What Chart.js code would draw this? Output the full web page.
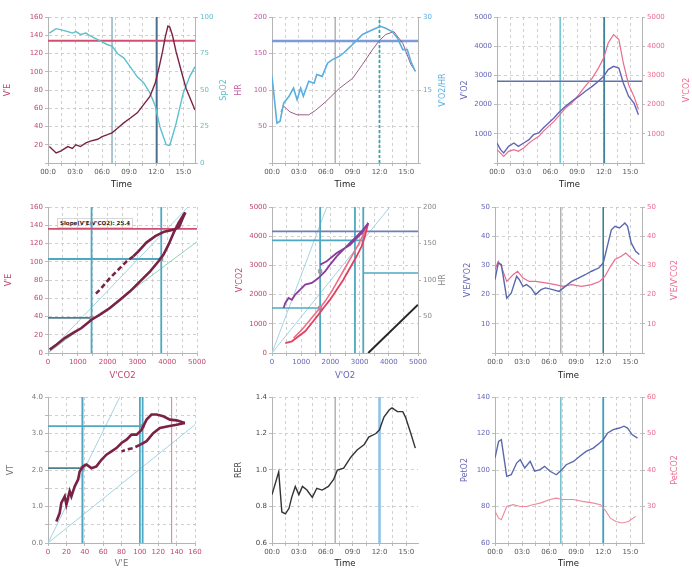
<!DOCTYPE html>
<html>
<head>
<meta charset="utf-8">
<script src="https://cdn.jsdelivr.net/npm/chart.js@4.4.1/dist/chart.umd.min.js"></script>
<style>
  html, body { margin: 0; padding: 0; background: #fff; }
  #wrap { position: relative; width: 692px; height: 569px; overflow: hidden; }
  .panel { position: absolute; }
  .note {
    position: absolute; left: 57px; top: 218px;
    font: bold 5.5px 'DejaVu Sans', sans-serif; color: #222;
    background: #fff; border: 1px solid #d8d8d8; padding: 1px 2px; white-space: nowrap;
  }
</style>
</head>
<body>
<div id="wrap"><div class="note">Slope(V'E/V'CO2): 25.4</div></div>
<script>
// ── data ──────────────────────────────────────────────────────────────────────
const timeTickLabels = ['00:0', '03:0', '06:0', '09:0', '12:0', '15:0'];
const thr1Time = 7.1;    // first threshold, min
const thr2Time = 12.05;  // second threshold, min

// panel 1: V'E and SpO2 vs time
const veTime   = [0.15, 0.9, 1.4, 2.2, 2.7, 3.1, 3.6, 4.2, 4.7, 5.5, 6.0, 6.6, 7.1, 7.7, 8.4, 9.1, 9.9, 10.6, 11.3, 11.9, 12.3, 12.7, 13.0, 13.3, 13.5, 13.8, 14.2, 14.8, 15.3, 16.3];
const veVals   = [18, 11, 13, 18, 16, 20, 18, 22, 24, 26, 29, 31, 33, 38, 44, 49, 55, 64, 73, 88, 104, 122, 138, 150, 149, 140, 122, 100, 82, 58];
const spo2Time = [0.15, 0.9, 1.6, 2.2, 2.7, 3.1, 3.6, 4.2, 4.7, 5.5, 6.0, 6.6, 7.1, 7.7, 8.4, 9.1, 9.9, 10.6, 11.3, 11.9, 12.4, 13.1, 13.5, 14.2, 15.0, 15.7, 16.3];
const spo2Vals = [89, 92, 91, 90, 89, 90, 88, 89, 87, 84.5, 83, 81, 80, 75, 72, 66, 59, 55, 48, 39, 25, 12.5, 12, 27, 48, 59, 66];
const veLimit  = 134;

// panel 2: HR and V'O2/HR vs time
const hrTime  = [1.0, 1.3, 2.0, 2.8, 4.1, 4.85, 6.0, 7.5, 9.0, 10.1, 11.2, 12.0, 12.7, 13.6, 14.6, 15.5, 16.0];
const hrVals  = [70, 78, 70, 66, 66, 72, 84, 102, 116, 135, 155, 168, 176, 180, 164, 135, 126];
const o2pTime = [0, 0.55, 0.9, 1.3, 1.9, 2.4, 2.8, 3.2, 3.5, 4.1, 4.7, 5.0, 5.6, 6.2, 6.7, 7.5, 8.0, 8.8, 9.5, 10.1, 10.8, 11.6, 12.1, 12.7, 13.4, 14.0, 14.6, 15.1, 15.5, 16.0];
const o2pVals = [17.8, 8.2, 8.6, 12.3, 13.7, 15.4, 13, 15.4, 13.7, 16.8, 16.4, 18.2, 17.8, 20.5, 21.2, 21.9, 22.6, 24, 25.3, 26.4, 27, 27.7, 28.1, 27.7, 27, 25.7, 23.3, 23.3, 20.9, 18.8];
const hrLimit = 167;

// panel 3: V'O2 and V'CO2 vs time
const gasTime  = [0, 0.4, 0.75, 1.3, 1.9, 2.4, 3.0, 3.6, 4.1, 4.7, 5.2, 5.8, 6.4, 6.9, 7.7, 8.4, 9.2, 9.9, 10.7, 11.4, 12.0, 12.5, 13.1, 13.7, 14.2, 14.8, 15.4, 15.9];
const vo2Vals  = [685, 457, 342, 570, 685, 570, 685, 800, 970, 1030, 1200, 1370, 1540, 1710, 1940, 2110, 2280, 2450, 2625, 2800, 2970, 3200, 3310, 3250, 2740, 2280, 2050, 1655];
const vco2Vals = [457, 340, 228, 400, 457, 400, 514, 685, 800, 913, 1085, 1255, 1427, 1600, 1884, 2055, 2340, 2625, 2910, 3250, 3600, 4110, 4395, 4225, 3425, 2680, 2280, 1830];
const vo2Limit = 2800;

// panel 4: V'E vs V'CO2
const veCo2ExX   = [56, 281, 562, 843, 1124, 1461, 1742, 2079, 2416, 2753, 3090, 3427, 3708, 3876, 4045, 4213, 4382, 4551, 4607];
const veCo2ExY   = [3.7, 9.1, 16.4, 22, 27.4, 36.5, 42, 49.3, 58.4, 67.6, 78.5, 89.5, 100.5, 107.8, 118.7, 131.5, 142.5, 151.6, 154];
const veCo2RecX  = [4607, 4500, 4400, 4200, 3900, 3600, 3300, 3050, 2865];
const veCo2RecY  = [154, 146, 138, 135, 133, 128, 121, 112, 106];
const veCo2TailX = [2865, 2640, 2360, 2079, 1742, 1573];
const veCo2TailY = [106, 100.5, 91.3, 82.2, 69.4, 64];
const veCo2ThrX  = [1461, 3800];
const veCo2ThrY  = [38.4, 103];

// panel 5: V'CO2 and HR vs V'O2
const vslopeExX  = [455, 682, 909, 1136, 1364, 1591, 1761, 1989, 2216, 2443, 2670, 2898, 3068, 3182, 3295];
const vslopeExY  = [342, 400, 571, 742, 1027, 1313, 1541, 1826, 2169, 2511, 2911, 3311, 3653, 3995, 4452];
const vslopeRecX = [3295, 3239, 2955, 2727, 2500, 2273, 2045, 1818, 1591, 1307, 1023, 739];
const vslopeRecY = [4452, 4281, 3710, 3311, 2911, 2511, 2112, 1769, 1484, 1142, 799, 514];
const hrVo2X     = [398, 455, 568, 682, 795, 966, 1136, 1364, 1591, 1818, 1989, 2216, 2443, 2670, 2898, 3125, 3295, 3068, 2670, 2216, 1875, 1648];
const hrVo2Y     = [61.6, 68.5, 75.3, 73, 80, 86.8, 93.6, 95.9, 102.7, 111.9, 121, 132.4, 141.6, 150.7, 159.8, 169, 178, 164, 148, 137, 125.6, 121];
const vslopeThrX = [1648, 2841, 3125];
const vslopeThrY = [1541, 2740, 3858, 4167];
const vslopeMarkX = [1648, 1648, 3125];
const vslopeMarkY = [1541, 2797, 4110];
const refLineX   = [3295, 5000];
const refLineY   = [0, 1655];

// panel 6: V'E/V'O2 and V'E/V'CO2 vs time
const eqO2Time  = [0, 0.36, 0.7, 1.3, 1.8, 2.4, 2.7, 3.1, 3.5, 4.0, 4.5, 5.1, 5.6, 6.4, 7.1, 7.8, 8.5, 9.3, 10.0, 10.7, 11.5, 12.0, 12.5, 12.9, 13.3, 13.8, 14.4, 14.7, 15.1, 15.6, 16.0];
const eqO2Vals  = [25.1, 30.8, 30.3, 18.8, 20.5, 26.3, 25.1, 22.8, 23.4, 22.3, 20, 21.7, 22.3, 21.7, 21.1, 22.8, 24.5, 25.7, 26.8, 28, 29.1, 30.8, 37.1, 42.2, 43.4, 42.8, 44.5, 43.4, 37.7, 34.8, 33.7];
const eqCo2Time = [0, 0.36, 0.7, 1.3, 2.0, 2.5, 3.1, 3.8, 4.5, 5.6, 6.7, 7.5, 8.5, 9.6, 10.7, 11.6, 12.2, 12.7, 13.3, 14.0, 14.5, 15.1, 16.0];
const eqCo2Vals = [28.5, 31.4, 29.7, 24.5, 26.8, 28, 25.7, 24.5, 24.5, 24, 23.4, 22.8, 23.4, 22.8, 23.4, 24.5, 26.3, 29.1, 32, 33.1, 34.2, 32.5, 30.3];

// panel 7: VT vs V'E
const vtExX   = [9.1, 12.7, 14.5, 18.2, 20, 23.6, 25.5, 29, 32.7, 34.5, 38.2, 41.8, 47.3, 52.7, 58.2, 63.6, 69.1, 74.5, 80, 85.5, 90.9, 96.4, 101.8, 107.3, 112.7, 118.2, 125.5, 132.7, 140, 149];
const vtExY   = [0.59, 0.82, 1.1, 1.28, 1.05, 1.42, 1.28, 1.55, 1.74, 1.96, 2.1, 2.15, 2.05, 2.1, 2.28, 2.42, 2.51, 2.6, 2.74, 2.83, 2.97, 2.97, 3.1, 3.38, 3.52, 3.52, 3.47, 3.38, 3.36, 3.29];
const vtRecX  = [149, 140, 130.9, 121.8, 114.5, 107.3, 100];
const vtRecY  = [3.29, 3.24, 3.2, 3.15, 3.01, 2.79, 2.69];
const vtTailX = [100, 92.7, 85.5, 80];
const vtTailY = [2.69, 2.6, 2.56, 2.51];
const vtThrX  = [37.5, 100, 103, 134.5];
const vtThrY  = [2.05, 3.2];

// panel 8: RER vs time
const rerTime = [0, 0.75, 1.1, 1.5, 1.9, 2.2, 2.6, 3.0, 3.4, 3.9, 4.5, 5.0, 5.6, 6.3, 6.9, 7.3, 8.0, 8.8, 9.5, 10.3, 10.8, 11.6, 12.0, 12.5, 13.1, 13.4, 14.0, 14.6, 14.9, 15.5, 16.0];
const rerVals = [0.865, 0.99, 0.77, 0.76, 0.79, 0.85, 0.91, 0.865, 0.91, 0.89, 0.85, 0.9, 0.89, 0.91, 0.95, 1.0, 1.01, 1.07, 1.11, 1.14, 1.18, 1.2, 1.22, 1.29, 1.33, 1.34, 1.32, 1.32, 1.29, 1.2, 1.12];

// panel 9: PetO2 and PetCO2 vs time
const peto2Time  = [0, 0.4, 0.7, 1.3, 1.8, 2.4, 2.8, 3.3, 3.9, 4.4, 5.0, 5.5, 6.1, 6.8, 7.4, 7.9, 8.7, 9.4, 10.1, 10.9, 11.6, 12.0, 12.5, 13.1, 13.8, 14.3, 14.7, 15.2, 15.8];
const peto2Vals  = [106.6, 115.7, 116.6, 96.5, 97.4, 103.8, 105.7, 101.1, 104.7, 99.3, 100.2, 102, 99.3, 97.4, 100.2, 102.9, 104.7, 107.5, 110.2, 112, 114.8, 116.6, 120.3, 122.1, 123, 124, 123, 119.4, 117.5];
const petco2Time = [0, 0.4, 0.7, 1.3, 2.0, 2.8, 3.5, 4.2, 5.1, 6.1, 6.8, 7.5, 8.7, 9.7, 10.8, 11.7, 12.3, 12.8, 13.4, 14.1, 14.8, 15.6];
const petco2Vals = [28.7, 26.8, 26.4, 30, 30.5, 30, 30, 30.5, 31, 31.9, 32.3, 31.9, 31.9, 31.4, 31, 30.5, 28.7, 26.8, 25.9, 25.5, 25.9, 27.3];

// ── helpers ───────────────────────────────────────────────────────────────────
const FONT = 'DejaVu Sans';
const wrap = document.getElementById('wrap');

const pts   = (xs, ys) => xs.map((x, i) => ({ x, y: ys[i] }));
const hLine = (y, x0, x1) => [{ x: x0, y }, { x: x1, y }];
const vLine = (x, y0, y1) => [{ x, y: y0 }, { x, y: y1 }];

function line(data, color, width, extra) {
  return Object.assign({ data, borderColor: color, backgroundColor: color, borderWidth: width,
    pointRadius: 0, fill: false, yAxisID: 'y' }, extra);
}

function marks(data, axis) {
  return { data, showLine: false, pointRadius: 2.5, pointStyle: 'rect', yAxisID: axis || 'y',
    backgroundColor: '#9a9a9a', borderColor: '#888', borderWidth: 0.5 };
}

function tickLabel(v, a) {
  const k = (v - a.min) / a.labelStep;
  const i = Math.round(k);
  return Math.abs(k - i) < 1e-6 ? (a.labels[i] ?? '') : '';
}

// right-hand axis title, rotated like the left one (reads bottom to top)
const sideTitle = {
  id: 'sideTitle',
  afterDraw(chart, args, opts) {
    const s = chart.scales.y2;
    if (!s || !opts.text) return;
    const { ctx, chartArea } = chart;
    ctx.save();
    ctx.translate(s.right - opts.offset, (chartArea.top + chartArea.bottom) / 2);
    ctx.rotate(-Math.PI / 2);
    ctx.textAlign = 'center';
    ctx.textBaseline = 'middle';
    ctx.font = `8px '${FONT}'`;
    ctx.fillStyle = opts.color;
    ctx.fillText(opts.text, 0, 0);
    ctx.restore();
  },
};

function makeAxis(a) {
  const onArea = a.grid !== false;
  return {
    type: 'linear', position: a.pos, min: a.min, max: a.max,
    afterFit: s => { if (a.pos === 'bottom') s.height = a.size; else s.width = a.size; },
    grid:   { drawOnChartArea: onArea, color: '#c4c4c4', lineWidth: 0.8, tickLength: 3, tickColor: '#aaa' },
    border: { color: '#b4b4b4', width: 1, dash: [3, 3] },
    ticks: {
      stepSize: a.step, autoSkip: false, maxRotation: 0, includeBounds: false, padding: 2,
      color: a.color, font: { family: FONT, size: 7 },
      callback: v => tickLabel(v, a),
    },
    title: { display: a.pos !== 'right', text: a.title, color: a.titleColor || a.color,
      padding: { top: a.tpad || 0, bottom: 0 },
      font: { family: FONT, size: a.pos === 'bottom' ? 8.5 : 8 } },
  };
}

function timeAxis(size) {
  return { pos: 'bottom', min: 0, max: 16.3, step: 1.5, labelStep: 3, labels: timeTickLabels,
    title: 'Time', color: '#555', titleColor: '#222', size };
}

function panel(p) {
  const div = document.createElement('div');
  div.className = 'panel';
  Object.assign(div.style, { left: p.box[0] + 'px', top: p.box[1] + 'px', width: p.box[2] + 'px', height: p.box[3] + 'px' });
  const cv = document.createElement('canvas');
  div.appendChild(cv);
  wrap.appendChild(div);

  const scales = { x: makeAxis(p.x), y: makeAxis(Object.assign({ pos: 'left' }, p.y)) };
  if (p.y2) scales.y2 = makeAxis(Object.assign({ pos: 'right', grid: false }, p.y2));

  new Chart(cv, {
    type: 'line',
    data: { datasets: p.datasets },
    plugins: [sideTitle],
    options: {
      responsive: true, maintainAspectRatio: false, animation: false,
      layout: { padding: { top: p.top, right: p.y2 ? 0 : p.right, left: 0, bottom: 0 } },
      plugins: {
        legend: { display: false }, tooltip: { enabled: false },
        sideTitle: p.y2 ? { text: p.y2.title, color: p.y2.color, offset: p.y2.toff } : {},
      },
      elements: { line: { tension: 0 } },
      scales,
    },
  });
}

// ── colours ───────────────────────────────────────────────────────────────────
const C = {
  ve: '#7a2246', veAxis: '#c0486c', spo2: '#5cc0cb', limit: '#d24f70',
  teal: '#4ea8c2', tealDark: '#3f8199', gray: '#8c8c8c',
  hr: '#9a5c86', hrAxis: '#c05a9c', o2p: '#5aaee2', blueLine: '#7d9bd9',
  vo2: '#6366b6', vco2: '#ea6c8e', red: '#e3405f', purple: '#8a3c9c',
  green: '#94d3b4', diag: '#a4d4e2', black: '#262626',
};

// ── row 1 ─────────────────────────────────────────────────────────────────────
panel({
  box: [0, 0, 230, 190], top: 17,
  x: timeAxis(27),
  y:  { min: 0, max: 160, step: 20, labelStep: 20, labels: ['', '20', '40', '60', '80', '100', '120', '140', '160'], title: "V'E", color: C.veAxis, size: 48, tpad: 3 },
  y2: { min: 0, max: 100, step: 25, labelStep: 25, labels: ['0', '25', '50', '75', '100'], title: 'SpO2', color: C.spo2, size: 35, toff: 6 },
  datasets: [
    line(pts(veTime, veVals), C.ve, 1.4),
    line(pts(spo2Time, spo2Vals), C.spo2, 1.4, { yAxisID: 'y2' }),
    line(hLine(veLimit, 0, 16.3), C.limit, 1.8),
    line(vLine(thr1Time, 0, 160), '#7fa9b8', 1.3),
    line(vLine(thr2Time, 0, 160), '#4b6f8c', 2),
  ],
});

panel({
  box: [230, 0, 230, 190], top: 17,
  x: timeAxis(27),
  y:  { min: 0, max: 200, step: 50, labelStep: 50, labels: ['', '50', '100', '150', '200'], title: 'HR', color: C.hrAxis, size: 42, tpad: 4 },
  y2: { min: 0, max: 30, step: 15, labelStep: 15, labels: ['', '15', '30'], title: "V'O2/HR", color: C.o2p, size: 42, toff: 17 },
  datasets: [
    line(pts(o2pTime, o2pVals), C.o2p, 1.6, { yAxisID: 'y2' }),
    line(pts(hrTime, hrVals), C.hr, 1),
    line(hLine(hrLimit, 0, 16.3), C.blueLine, 2.5),
    line(vLine(7.05, 0, 200), C.gray, 1),
    line(vLine(12.0, 0, 200), '#3fa3a8', 1.8, { borderDash: [3, 2] }),
  ],
});

panel({
  box: [460, 0, 232, 190], top: 17,
  x: timeAxis(27),
  y:  { min: 0, max: 5000, step: 1000, labelStep: 1000, labels: ['', '1000', '2000', '3000', '4000', '5000'], title: "V'O2", color: C.vo2, size: 37 },
  y2: { min: 0, max: 5000, step: 1000, labelStep: 1000, labels: ['', '1000', '2000', '3000', '4000', '5000'], title: "V'CO2", color: C.vco2, size: 50, toff: 5 },
  datasets: [
    line(pts(gasTime, vo2Vals), C.vo2, 1.4),
    line(pts(gasTime, vco2Vals), C.vco2, 1.2, { yAxisID: 'y2' }),
    line(hLine(vo2Limit, 0, 16.3), '#5f72b0', 1.5),
    line(vLine(thr1Time, 0, 5000), '#56b9c9', 1.3),
    line(vLine(thr2Time, 0, 5000), C.tealDark, 1.8),
  ],
});

// ── row 2 ─────────────────────────────────────────────────────────────────────
panel({
  box: [0, 190, 230, 191], top: 17, right: 33,
  x: { pos: 'bottom', min: 0, max: 5000, step: 500, labelStep: 1000, labels: ['0', '1000', '2000', '3000', '4000', '5000'], title: "V'CO2", color: C.veAxis, size: 28 },
  y: { min: 0, max: 160, step: 20, labelStep: 20, labels: ['0', '20', '40', '60', '80', '100', '120', '140', '160'], title: "V'E", color: C.veAxis, size: 48, tpad: 4 },
  datasets: [
    line(pts(veCo2ExX, veCo2ExY), C.ve, 2.6),
    line(pts(veCo2RecX, veCo2RecY), C.ve, 2.6),
    line(pts(veCo2TailX, veCo2TailY), C.ve, 2.6, { borderDash: [5, 3] }),
    marks(pts(veCo2ThrX, veCo2ThrY)),
    line(hLine(veLimit + 2, 0, 5000), C.limit, 1.8),
    line(hLine(veCo2ThrY[1], 0, veCo2ThrX[1]), C.teal, 1.8),
    line(hLine(veCo2ThrY[0], 0, veCo2ThrX[0]), '#4d7f8f', 1.8),
    line(vLine(veCo2ThrX[0], 0, 160), C.teal, 1.8),
    line(vLine(veCo2ThrX[1], 0, 160), C.teal, 1.8),
    line(pts([0, 5000], [0, 122]), C.green, 1),
    line(pts([0, 4700], [0, 160]), C.diag, 1),
  ],
});

panel({
  box: [230, 190, 230, 191], top: 17,
  x:  { pos: 'bottom', min: 0, max: 5000, step: 500, labelStep: 1000, labels: ['0', '1000', '2000', '3000', '4000', '5000'], title: "V'O2", color: C.vo2, size: 28 },
  y:  { min: 0, max: 5000, step: 1000, labelStep: 1000, labels: ['0', '1000', '2000', '3000', '4000', '5000'], title: "V'CO2", color: C.veAxis, size: 42, tpad: 5 },
  y2: { min: 0, max: 200, step: 50, labelStep: 50, labels: ['', '50', '100', '150', '200'], title: 'HR', color: '#888', size: 42, toff: 17 },
  datasets: [
    line(pts(hrVo2X, hrVo2Y), C.purple, 1.8, { yAxisID: 'y2' }),
    line(pts(vslopeExX, vslopeExY), C.red, 1.8),
    line(pts(vslopeRecX, vslopeRecY), '#ee6f88', 1.6),
    marks(pts(vslopeMarkX, vslopeMarkY)),
    line(pts(refLineX, refLineY), C.black, 2),
    line(hLine(vslopeThrY[3], 0, 5000), '#6f7fb8', 1.8),
    line(hLine(vslopeThrY[2], 0, vslopeThrX[2]), C.teal, 1.8),
    line(hLine(vslopeThrY[1], vslopeThrX[2], 5000), C.teal, 1.5),
    line(hLine(vslopeThrY[0], 0, vslopeThrX[0]), C.teal, 1.5),
    line(vLine(vslopeThrX[0], 0, 5000), C.teal, 1.8),
    line(vLine(vslopeThrX[1], 0, 5000), C.teal, 1.8),
    line(vLine(vslopeThrX[2], 0, 5000), C.teal, 1.8),
    line(pts([0, 1875], [0, 5000]), C.diag, 1),
    line(pts([0, 4034], [0, 5000]), C.diag, 1),
  ],
});

panel({
  box: [460, 190, 232, 191], top: 17,
  x: timeAxis(28),
  y:  { min: 0, max: 50, step: 10, labelStep: 10, labels: ['', '10', '20', '30', '40', '50'], title: "V'E/V'O2", color: C.vo2, size: 35, tpad: 3 },
  y2: { min: 0, max: 50, step: 10, labelStep: 10, labels: ['', '10', '20', '30', '40', '50'], title: "V'E/V'CO2", color: C.vco2, size: 50, toff: 17 },
  datasets: [
    line(pts(eqO2Time, eqO2Vals), '#5a68ad', 1.4),
    line(pts(eqCo2Time, eqCo2Vals), C.vco2, 1.2, { yAxisID: 'y2' }),
    line(vLine(7.3, 0, 50), C.gray, 1),
    line(vLine(12.0, 0, 50), C.tealDark, 1.6),
  ],
});

// ── row 3 ─────────────────────────────────────────────────────────────────────
panel({
  box: [0, 381, 230, 188], top: 16, right: 35,
  x: { pos: 'bottom', min: 0, max: 160, step: 20, labelStep: 20, labels: ['0', '20', '40', '60', '80', '100', '120', '140', '160'], title: "V'E", color: C.veAxis, titleColor: '#777', size: 26 },
  y: { min: 0, max: 4, step: 0.5, labelStep: 1, labels: ['0.0', '1.0', '2.0', '3.0', '4.0'], title: 'VT', color: '#777', size: 48, tpad: 6 },
  datasets: [
    line(pts(vtExX, vtExY), C.ve, 2.6),
    line(pts(vtRecX, vtRecY), C.ve, 2.6),
    line(pts(vtTailX, vtTailY), C.ve, 2.6, { borderDash: [5, 3] }),
    marks(pts([vtThrX[0], vtThrX[2]], vtThrY)),
    line(hLine(vtThrY[1], 0, vtThrX[2]), C.teal, 1.8),
    line(hLine(vtThrY[0], 0, vtThrX[0]), '#4d7f8f', 1.8),
    line(vLine(vtThrX[0], 0, 4), C.teal, 2),
    line(vLine(vtThrX[1], 0, 4), C.teal, 1.8),
    line(vLine(vtThrX[2], 0, 4), C.teal, 1.8),
    line(vLine(vtThrX[3], 0, 4), '#e48aa0', 1.2),
    line(pts([0, 78.2], [0, 4]), C.diag, 1),
    line(pts([0, 160], [0, 3.24]), C.diag, 1),
  ],
});

panel({
  box: [230, 381, 230, 188], top: 16, right: 42,
  x: timeAxis(26),
  y: { min: 0.6, max: 1.4, step: 0.2, labelStep: 0.2, labels: ['0.6', '0.8', '1.0', '1.2', '1.4'], title: 'RER', color: '#444', size: 42, tpad: 4 },
  datasets: [
    line(pts(rerTime, rerVals), '#333', 1.4),
    line(vLine(7.05, 0.6, 1.4), C.gray, 1),
    line(vLine(12.0, 0.6, 1.4), '#8fc3e8', 2.6),
  ],
});

panel({
  box: [460, 381, 232, 188], top: 16,
  x: timeAxis(26),
  y:  { min: 60, max: 140, step: 20, labelStep: 20, labels: ['60', '80', '100', '120', '140'], title: 'PetO2', color: C.vo2, size: 35 },
  y2: { min: 20, max: 60, step: 10, labelStep: 10, labels: ['', '30', '40', '50', '60'], title: 'PetCO2', color: C.vco2, size: 50, toff: 17 },
  datasets: [
    line(pts(peto2Time, peto2Vals), '#5a68ad', 1.4),
    line(pts(petco2Time, petco2Vals), '#ee8a9c', 1.1, { yAxisID: 'y2' }),
    line(vLine(7.3, 60, 140), '#5ab6c6', 1.3),
    line(vLine(12.0, 60, 140), '#3f9fb8', 1.8),
  ],
});
</script>
</body>
</html>
